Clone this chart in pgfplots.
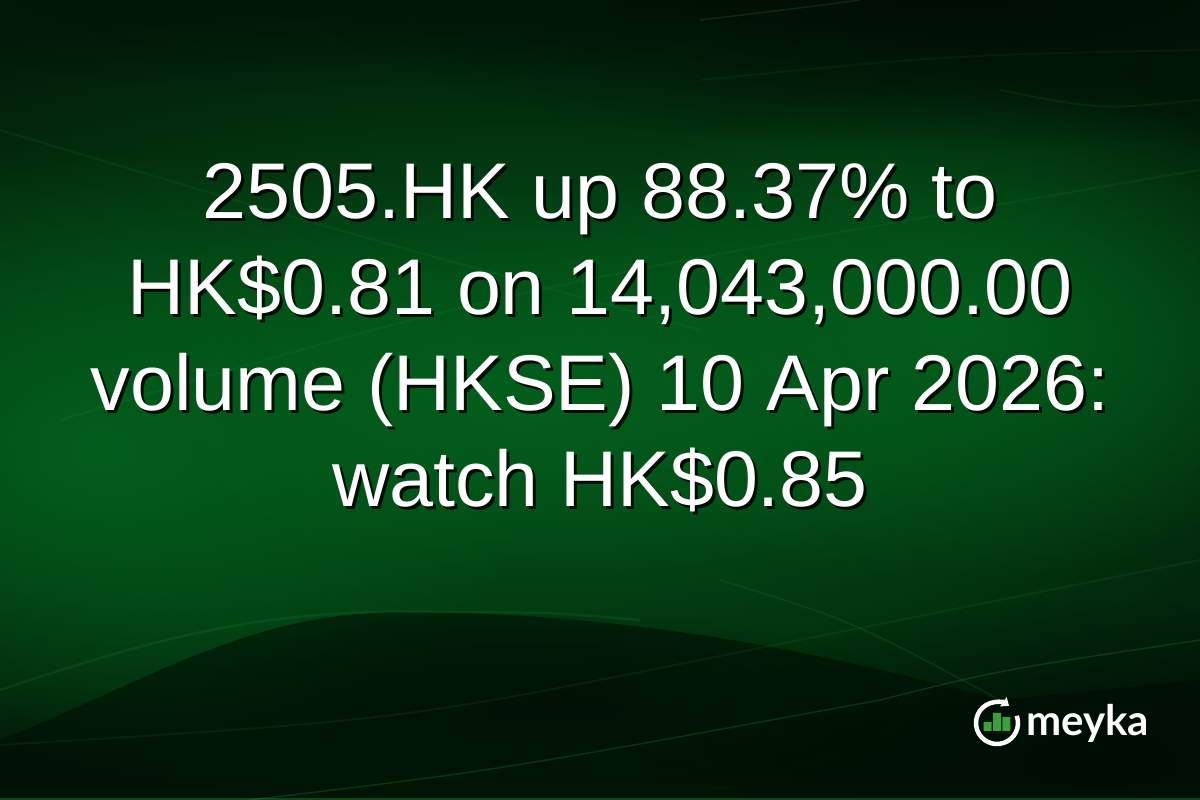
\documentclass[border=0pt]{standalone}
\usepackage{pgfplots}
\pgfplotsset{compat=1.18}
\usepackage{fontspec}
\setmainfont{Liberation Sans}
\newfontfamily\logofont{Lato}
\usetikzlibrary{arrows.meta,fadings}

\definecolor{bgbase}{HTML}{021A08}
\definecolor{bgglow}{HTML}{035E1C}
\definecolor{bgdark}{HTML}{000C03}
\definecolor{logogreen}{RGB}{58,160,58}
\definecolor{swoosh}{RGB}{40,170,60}

\tikzfading[name=softglow, inner color=transparent!0, outer color=transparent!100]

% one title line, white with a black drop shadow
\newcommand\titleline[2]{%
  \node[anchor=base, text=black, opacity=0.85,
        font=\fontsize{79bp}{96bp}\selectfont] at (axis cs:603,#1+3) {#2};
  \node[anchor=base, text=white,
        font=\fontsize{79bp}{96bp}\selectfont] at (axis cs:600,#1) {#2};}

\begin{document}
\begin{tikzpicture}
\begin{axis}[name=main, at={(0,0)}, anchor=south west,
  width=1200bp, height=800bp, scale only axis,
  xmin=0, xmax=1200, ymin=0, ymax=800, y dir=reverse,
  hide axis, clip=true]
  \addplot[draw=none] coordinates {(0,0) (1200,800)};
  % background
  \fill[bgbase] (axis cs:0,0) rectangle (axis cs:1200,800);
  \fill[bgglow, path fading=softglow] (axis cs:520,400) ellipse [x radius=1000bp, y radius=420bp];
  \fill[bgglow, path fading=softglow] (axis cs:100,450) ellipse [x radius=450bp, y radius=300bp];
  \fill[bgglow, path fading=softglow] (axis cs:950,330) ellipse [x radius=450bp, y radius=250bp];
  \fill[bgglow, path fading=softglow, opacity=0.7] (axis cs:550,380) ellipse [x radius=500bp, y radius=200bp];
  % dark top band
  \fill[bgdark, path fading=softglow] (axis cs:950,-20) ellipse [x radius=650bp, y radius=170bp];
  \fill[bgdark, path fading=softglow, opacity=0.6] (axis cs:300,-40) ellipse [x radius=500bp, y radius=130bp];
  % dark lower hill
  \fill[bgdark, opacity=0.55] (axis cs:0,740) .. controls (axis cs:150,680) and (axis cs:250,612) .. (axis cs:400,612)
     .. controls (axis cs:650,612) and (axis cs:850,660) .. (axis cs:1000,700)
     .. controls (axis cs:1100,690) .. (axis cs:1200,680) -- (axis cs:1200,800) -- (axis cs:0,800) -- cycle;
  \fill[bgdark, path fading=softglow, opacity=0.8] (axis cs:1100,760) ellipse [x radius=450bp, y radius=160bp];
  \fill[bgdark, path fading=softglow, opacity=0.6] (axis cs:550,700) ellipse [x radius=350bp, y radius=90bp];
  % light streaks
  \draw[swoosh, opacity=0.10, line width=2bp] (axis cs:0,130) .. controls (axis cs:300,220) .. (axis cs:700,330);
  \draw[swoosh, opacity=0.10, line width=2bp] (axis cs:60,420) .. controls (axis cs:500,290) .. (axis cs:1200,170);
  \draw[swoosh, opacity=0.18, line width=1.5bp] (axis cs:700,20) .. controls (axis cs:800,8) .. (axis cs:860,0);
  \draw[swoosh, opacity=0.08, line width=2bp] (axis cs:700,80) .. controls (axis cs:950,55) .. (axis cs:1200,50);
  \draw[swoosh, opacity=0.10, line width=2bp] (axis cs:1000,90) .. controls (axis cs:1100,110) .. (axis cs:1200,100);
  \draw[swoosh, opacity=0.14, line width=2.5bp] (axis cs:0,690) .. controls (axis cs:150,640) and (axis cs:250,612) .. (axis cs:400,612)
     .. controls (axis cs:550,612) .. (axis cs:640,620);
  \draw[swoosh, opacity=0.14, line width=1.5bp] (axis cs:720,580) .. controls (axis cs:850,620) .. (axis cs:1000,700);
  \draw[swoosh, opacity=0.22, line width=1.5bp] (axis cs:250,800) .. controls (axis cs:500,770) .. (axis cs:880,700)
     .. controls (axis cs:1000,670) .. (axis cs:1200,640);
  \draw[swoosh, opacity=0.10, line width=2bp] (axis cs:0,745) .. controls (axis cs:400,720) .. (axis cs:700,660)
     .. controls (axis cs:900,620) .. (axis cs:1200,560);
  \draw[swoosh, opacity=0.35, line width=1.5bp] (axis cs:0,799) -- (axis cs:1200,799);
  % title
  \titleline{218}{2505.HK up 88.37\% to}
  \titleline{314}{HK\$0.81 on 14,043,000.00}
  \titleline{410}{volume (HKSE) 10 Apr 2026:}
  \titleline{506}{watch HK\$0.85}
  % logo ring
  \draw[white, line width=4.5bp, -{Triangle[length=7bp, width=11bp]}]
    (axis cs:997,723) ++(20:21bp) arc[start angle=20, end angle=-305, radius=21bp];
  \node[anchor=base west, inner sep=0pt, text=white,
        font=\logofont\bfseries\fontsize{42bp}{48bp}\selectfont]
    at (axis cs:1026,735) {meyka};
\end{axis}
% logo bars
\begin{axis}[at={(983bp,69bp)}, anchor=south west,
  width=28bp, height=18bp, scale only axis,
  xmin=0.5, xmax=3.5, ymin=0, ymax=18, hide axis,
  ybar, bar width=0.86, bar shift=0]
  \addplot[fill=logogreen, draw=none] coordinates {(1,9) (2,18) (3,14)};
\end{axis}
\pgfresetboundingbox
\path[use as bounding box] (0,0) rectangle (1200bp,800bp);
\end{tikzpicture}
\end{document}
